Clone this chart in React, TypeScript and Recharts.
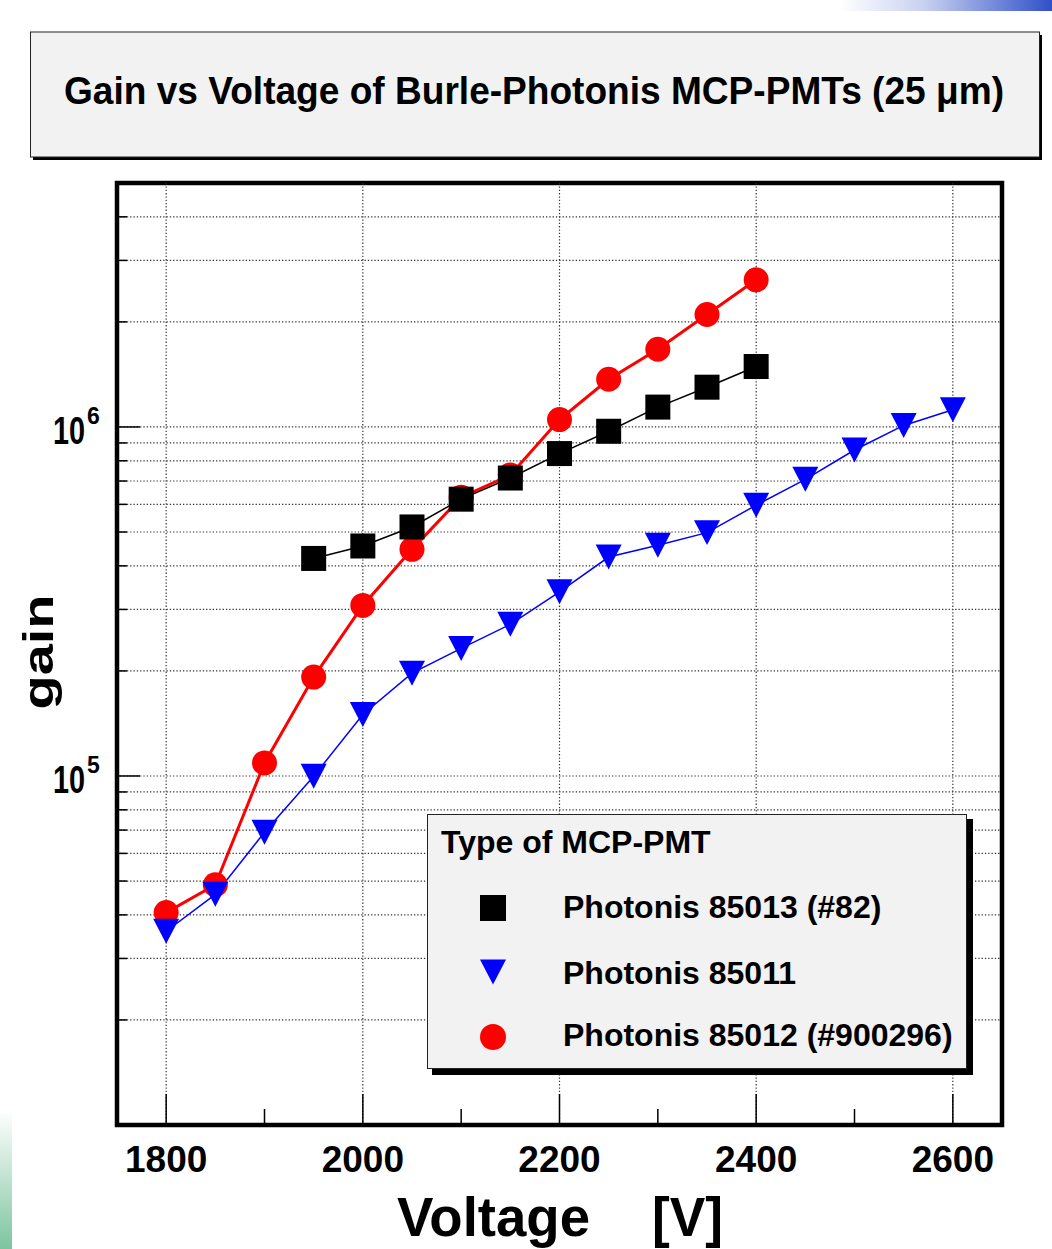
import React from "react";
import {
	LineChart,
	Line,
	XAxis,
	YAxis,
	CartesianGrid,
	ReferenceLine,
	ReferenceArea,
	Legend,
} from "recharts";

// --- data ---
const voltsBlack = [1950, 2000, 2050, 2100, 2150, 2200, 2250, 2300, 2350, 2400];
const gainBlack = [4.2e5, 4.56e5, 5.17e5, 6.21e5, 7.14e5, 8.39e5, 9.72e5, 1.14e6, 1.3e6, 1.49e6];

const voltsBlue = [
	1800, 1850, 1900, 1950, 2000, 2050, 2100, 2150, 2200, 2250, 2300, 2350, 2400,
	2450, 2500, 2550, 2600,
];
const gainBlue = [
	3.59e4, 4.58e4, 6.9e4, 9.98e4, 1.5e5, 1.97e5, 2.32e5, 2.72e5, 3.37e5, 4.24e5,
	4.58e5, 4.98e5, 5.97e5, 7.08e5, 8.59e5, 1.01e6, 1.12e6,
];

const voltsRed = [
	1800, 1850, 1900, 1950, 2000, 2050, 2100, 2150, 2200, 2250, 2300, 2350, 2400,
];
const gainRed = [
	4.06e4, 4.88e4, 1.09e5, 1.92e5, 3.08e5, 4.46e5, 6.29e5, 7.28e5, 1.05e6, 1.37e6,
	1.67e6, 2.1e6, 2.64e6,
];

const nameBlack = "Photonis 85013 (#82)";
const nameBlue = "Photonis 85011";
const nameRed = "Photonis 85012 (#900296)";

const xTicks = [1800, 1900, 2000, 2100, 2200, 2300, 2400, 2500, 2600];
const xLabelTicks = [1800, 2000, 2200, 2400, 2600];
const yTicks = [
	2e4, 3e4, 4e4, 5e4, 6e4, 7e4, 8e4, 9e4,
	1e5, 2e5, 3e5, 4e5, 5e5, 6e5, 7e5, 8e5, 9e5,
	1e6, 2e6, 3e6, 4e6,
];
const yLabelTicks = [1e5, 1e6];

const toRows = (xs: number[], ys: number[]) => xs.map((v, i) => ({ v, gain: ys[i] }));
const blackData = toRows(voltsBlack, gainBlack);
const blueData = toRows(voltsBlue, gainBlue);
const redData = toRows(voltsRed, gainRed);

const FONT = "'Liberation Sans', Arial, Helvetica, sans-serif";
const X_MARGIN = 20;
const Y_MARGIN = 12;
const GRID = "#333";
const DASH = "1.3 2";

function Square({ cx, cy, color = "#000", s = 25 }: any) {
	return <rect x={cx - s / 2} y={cy - s / 2} width={s} height={s} fill={color} />;
}

function Circle({ cx, cy, color = "#ff0000", s = 25 }: any) {
	return <circle cx={cx} cy={cy} r={s / 2} fill={color} />;
}

function TriDown({ cx, cy, color = "#0000ff", s = 26 }: any) {
	const h = s * 0.96;
	return (
		<polygon
			points={`${cx - s / 2},${cy - h / 2} ${cx + s / 2},${cy - h / 2} ${cx},${cy + h / 2}`}
			fill={color}
		/>
	);
}

function XTick({ x, y, payload }: any) {
	const major = xLabelTicks.includes(payload.value);
	const base = y - X_MARGIN;
	return (
		<g>
			<line x1={x} x2={x} y1={base} y2={base - (major ? 31 : 16)} stroke="#000" strokeWidth={1.5} />
			{major && (
				<text x={x} y={y + 27} textAnchor="middle" fontSize={37} fontWeight="bold" fontFamily={FONT} fill="#000">
					{payload.value}
				</text>
			)}
		</g>
	);
}

function YTick({ x, y, payload }: any) {
	const v = payload.value;
	const major = yLabelTicks.includes(v);
	const base = x + Y_MARGIN;
	const exp = Math.round(Math.log10(v));
	return (
		<g>
			<line x1={base} x2={base + (major ? 23 : 10)} y1={y} y2={y} stroke="#000" strokeWidth={1.5} />
			{major && (
				<g>
					<g transform={`translate(${x - 20},${y + 17}) scale(0.74,1)`}>
						<text x={0} y={0} textAnchor="end" fontSize={39} fontWeight="bold" fontFamily={FONT} fill="#000">
							10
						</text>
					</g>
					<text x={x - 18} y={y - 3} fontSize={23} fontWeight="bold" fontFamily={FONT} fill="#000">
						{exp}
					</text>
				</g>
			)}
		</g>
	);
}

const legendRows = [
	{ name: nameBlack, marker: <Square cx={66} cy={94} s={26} /> },
	{ name: nameBlue, marker: <TriDown cx={66} cy={158} s={26} /> },
	{ name: nameRed, marker: <Circle cx={66} cy={223} s={26} /> },
];

function LegendBox() {
	return (
		<svg width={548} height={262} style={{ display: "block" }}>
			<rect x={5} y={5} width={541} height={256} fill="#000" />
			<rect x={0.5} y={0.5} width={539} height={254} fill="#f2f2f2" stroke="#222" strokeWidth={1} />
			<text x={14} y={39} fontSize={32} fontWeight="bold" fontFamily={FONT} fill="#000">
				Type of MCP-PMT
			</text>
			{legendRows.map((r, i) => (
				<g key={r.name}>
					{r.marker}
					<text x={136} y={[104, 170, 232][i]} fontSize={32} fontWeight="bold" fontFamily={FONT} fill="#000">
						{r.name}
					</text>
				</g>
			))}
		</svg>
	);
}

export default function App() {
	return (
		<div
			style={{
				position: "absolute",
				left: 0,
				top: 0,
				width: 1052,
				height: 1249,
				background: "#fff",
				fontFamily: FONT,
				overflow: "hidden",
			}}
		>
			{/* slide decorations */}
			<div
				style={{
					position: "absolute",
					left: 840,
					top: 0,
					width: 212,
					height: 11,
					background: "linear-gradient(to right, #ffffff, #c8d0f0 40%, #3050c8)",
				}}
			/>
			<div
				style={{
					position: "absolute",
					left: 0,
					top: 1110,
					width: 12,
					height: 139,
					background: "linear-gradient(to bottom, #ffffff, #bfe2d0 50%, #7cc4a0)",
				}}
			/>

			<div style={{ position: "absolute", left: 0, top: 0 }}>
				<LineChart
					width={1052}
					height={1249}
					margin={{ top: 183, right: 50, left: 57, bottom: 64 }}
				>
					<CartesianGrid vertical={false} stroke={GRID} strokeDasharray={DASH} strokeWidth={1.2} />
					{xLabelTicks.map((v) => (
						<ReferenceLine key={v} x={v} stroke={GRID} strokeDasharray={DASH} strokeWidth={1.2} />
					))}
					<XAxis
						dataKey="v"
						type="number"
						domain={[1750, 2650]}
						ticks={xTicks}
						interval={0}
						allowDataOverflow
						height={60}
						tickSize={0}
						tickMargin={X_MARGIN}
						axisLine={false}
						tickLine={false}
						tick={<XTick />}
					/>
					<YAxis
						scale="log"
						domain={[1e4, 5e6]}
						ticks={yTicks}
						interval={0}
						allowDataOverflow
						width={60}
						tickSize={0}
						tickMargin={Y_MARGIN}
						axisLine={false}
						tickLine={false}
						tick={<YTick />}
					/>
					<Line
						data={redData}
						dataKey="gain"
						name={nameRed}
						type="linear"
						stroke="#ff0000"
						strokeWidth={3}
						isAnimationActive={false}
						dot={(p: any) => <Circle key={`r${p.index}`} cx={p.cx} cy={p.cy} />}
					/>
					<Line
						data={blueData}
						dataKey="gain"
						name={nameBlue}
						type="linear"
						stroke="#0000ff"
						strokeWidth={1.5}
						isAnimationActive={false}
						dot={(p: any) => <TriDown key={`b${p.index}`} cx={p.cx} cy={p.cy} />}
					/>
					<Line
						data={blackData}
						dataKey="gain"
						name={nameBlack}
						type="linear"
						stroke="#000"
						strokeWidth={1.5}
						isAnimationActive={false}
						dot={(p: any) => <Square key={`k${p.index}`} cx={p.cx} cy={p.cy} />}
					/>
					<ReferenceArea
						x1={1750}
						x2={2650}
						y1={1e4}
						y2={5e6}
						fill="none"
						fillOpacity={0}
						stroke="#000"
						strokeWidth={4.5}
					/>
					<Legend
						layout="vertical"
						align="center"
						verticalAlign="middle"
						content={<LegendBox />}
						wrapperStyle={{ left: 427, top: 814, width: 548, height: 262 }}
					/>
				</LineChart>
			</div>

			{/* title box and axis titles */}
			<svg
				width={1052}
				height={1249}
				style={{ position: "absolute", left: 0, top: 0, pointerEvents: "none" }}
			>
				<rect x={33} y={35} width={1009} height={125} fill="#000" />
				<rect x={30.5} y={32} width={1009} height={125} fill="#f2f2f2" stroke="#222" strokeWidth={1} />
				<text
					x={64}
					y={104}
					fontSize={38}
					fontWeight="bold"
					fontFamily={FONT}
					textLength={940}
					lengthAdjust="spacingAndGlyphs"
					fill="#000"
				>
					Gain vs Voltage of Burle-Photonis MCP-PMTs (25 μm)
				</text>
				<text x={397} y={1236} fontSize={56} fontWeight="bold" fontFamily={FONT} textLength={193} lengthAdjust="spacingAndGlyphs" fill="#000">
					Voltage
				</text>
				<text x={652} y={1236} fontSize={56} fontWeight="bold" fontFamily={FONT} textLength={71} lengthAdjust="spacingAndGlyphs" fill="#000">
					[V]
				</text>
				<text
					transform="translate(53,652) rotate(-90)"
					textAnchor="middle"
					fontSize={42}
					fontWeight="bold"
					fontFamily={FONT}
					textLength={115}
					lengthAdjust="spacingAndGlyphs"
					fill="#000"
				>
					gain
				</text>
			</svg>
		</div>
	);
}
